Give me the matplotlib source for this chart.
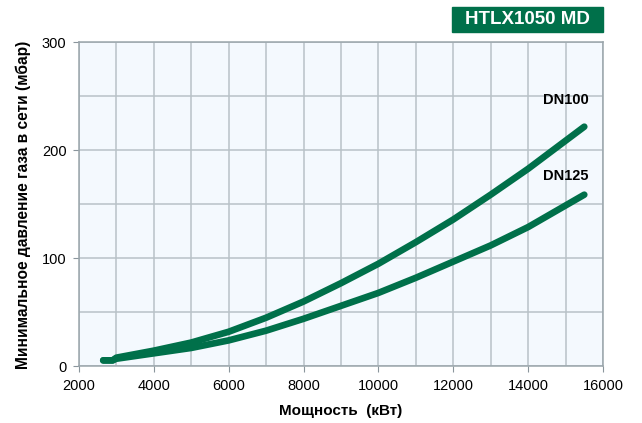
import matplotlib
matplotlib.use("Agg")
import matplotlib.pyplot as plt
from matplotlib.patches import Rectangle

plt.rcParams["font.family"] = ["Liberation Sans", "DejaVu Sans"]

# data
power = [2650, 2900, 3000, 4000, 5000, 6000, 7000, 8000, 9000,
         10000, 11000, 12000, 13000, 14000, 15000, 15500]
dn100 = [5.5, 5.5, 8, 14.5, 22, 32, 45, 60, 77, 95, 115, 136, 159, 183, 209, 222]
dn125 = [5.5, 5.5, 7, 12, 17, 24, 33, 44, 56, 68, 82, 97, 112, 129, 149, 159]

x_ticks = [2000, 4000, 6000, 8000, 10000, 12000, 14000, 16000]
y_ticks = [0, 100, 200, 300]
title = "HTLX1050 MD"
green = "#00704a"

fig = plt.figure(figsize=(6.42, 4.23), dpi=100)
ax = fig.add_axes([78.9 / 642, 1 - 366.3 / 423, (603 - 78.9) / 642, (366.3 - 42.5) / 423])
ax.set_facecolor("#f4f9fe")

for vals in (dn100, dn125):
    ax.plot(power, vals, color=green, lw=4.8, solid_capstyle="round",
            solid_joinstyle="round", zorder=3)

ax.set_xlim(2000, 16000)
ax.set_ylim(0, 300)
ax.set_xticks(x_ticks)
ax.set_yticks(y_ticks)
ax.set_xticks(range(3000, 16000, 2000), minor=True)
ax.set_yticks([50, 150, 250], minor=True)
ax.grid(True, which="both", color="#b8c2c8", lw=1.1, zorder=1)
ax.set_axisbelow(True)
ax.tick_params(which="major", length=4, color="#8a959c", labelsize=10.5, pad=5)
ax.tick_params(which="minor", length=0)
for s in ax.spines.values():
    s.set_color("#9aa5ab")
    s.set_linewidth(1.1)

ax.set_xlabel("Мощность  (кВт)", fontsize=11, fontweight="bold", labelpad=8)
ax.set_ylabel("Минимальное давление газа в сети (мбар)", fontsize=11.2,
              fontweight="bold", labelpad=8)

ax.text(15000, 240, "DN100", fontsize=10.5, fontweight="bold", ha="center", va="bottom")
ax.text(15000, 170, "DN125", fontsize=10.5, fontweight="bold", ha="center", va="bottom")

fig.patches.append(Rectangle((452 / 642, 1 - 32.5 / 423), 151 / 642, 25 / 423,
                             transform=fig.transFigure, color=green))
fig.text(527 / 642, 1 - 20 / 423, title, color="white", fontsize=13.5,
         fontweight="bold", ha="center", va="center")

fig.savefig("out.png", dpi=100)
